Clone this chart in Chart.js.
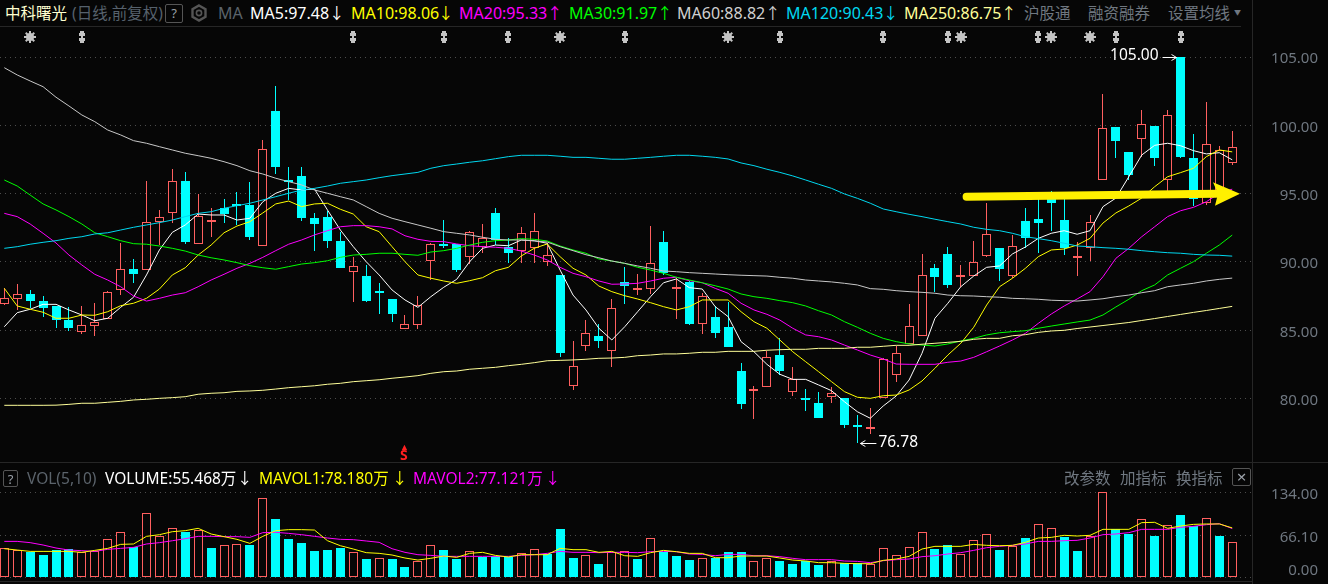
<!DOCTYPE html>
<html>
<head>
<meta charset="utf-8">
<title>中科曙光</title>
<script src="https://cdn.jsdelivr.net/npm/chart.js@4"></script>
<style>
html, body { margin: 0; padding: 0; background: #060606; width: 1328px; height: 584px; overflow: hidden; }
canvas { position: absolute; left: 0; }
#main_chart { top: 27px; }
#volume_chart { top: 463px; }
.t { position: absolute; white-space: nowrap; font: 15.5px/20px "Noto Sans", "Noto Sans CJK SC", sans-serif; color: #6f7780; z-index: 2; }
.m { font-size: 16px; }
.box { position: absolute; border: 1px solid #555; border-radius: 2px; text-align: center; color: #9aa0a8; font: 13px/16px "Noto Sans", sans-serif; z-index: 2; box-sizing: border-box; }
.rule { position: absolute; background: #262626; z-index: 1; }
</style>
</head>
<body>
<canvas id="main_chart" width="1318" height="435"></canvas>
<canvas id="volume_chart" width="1318" height="118"></canvas>

<div class="rule" style="left:0;top:26px;width:1241px;height:1px"></div>
<div class="rule" style="left:0;top:462px;width:1328px;height:1px"></div>
<div class="rule" style="left:0;top:581px;width:1252px;height:1px"></div>
<div class="rule" style="left:1252px;top:0;width:1px;height:584px"></div>

<span class="t" style="left:5px;top:3px;color:#ffffd0">中科曙光</span>
<span class="t" style="left:72px;top:3px;color:#56616c">(日线,前复权)</span>
<span class="box" style="left:165px;top:4px;width:18px;height:19px">?</span>
<svg style="position:absolute;left:190px;top:4px;z-index:2" width="18" height="18" viewBox="0 0 18 18"><path d="M9 1.5 15.5 5.2V12.8L9 16.5 2.5 12.8V5.2Z" fill="none" stroke="#555" stroke-width="2.4"/><circle cx="9" cy="9" r="2.6" fill="none" stroke="#555" stroke-width="1.6"/></svg>
<span class="t m" style="left:218px;top:3px;color:#5b636b">MA</span>
<span class="t m" style="left:250px;top:3px;color:#ffffff">MA5:97.48</span><span class="t" style="left:329px;top:3px;color:#ffffff">↓</span>
<span class="t m" style="left:351px;top:3px;color:#ffff00">MA10:98.06</span><span class="t" style="left:438px;top:3px;color:#ffff00">↓</span>
<span class="t m" style="left:459px;top:3px;color:#ff00ff">MA20:95.33</span><span class="t" style="left:547px;top:3px;color:#ff00ff">↑</span>
<span class="t m" style="left:569px;top:3px;color:#00ff00">MA30:91.97</span><span class="t" style="left:657px;top:3px;color:#00ff00">↑</span>
<span class="t m" style="left:677px;top:3px;color:#d0d0d0">MA60:88.82</span><span class="t" style="left:765px;top:3px;color:#d0d0d0">↑</span>
<span class="t m" style="left:786px;top:3px;color:#00d8f0">MA120:90.43</span><span class="t" style="left:883px;top:3px;color:#00d8f0">↓</span>
<span class="t m" style="left:904px;top:3px;color:#ffff99">MA250:86.75</span><span class="t" style="left:1001px;top:3px;color:#ffff99">↑</span>
<span class="t" style="left:1024px;top:3px">沪股通</span>
<span class="t" style="left:1088px;top:3px">融资融券</span>
<span class="t" style="left:1168px;top:3px">设置均线</span>
<span class="t" style="left:1234px;top:3px;font-size:7px">▼</span>

<span class="t" style="left:400px;top:442px;color:#ff2020;font:bold 9px/9px 'Noto Sans',sans-serif">▲</span>
<span class="t" style="left:400px;top:448px;color:#ff2020;font:bold 14px/14px 'Noto Sans',sans-serif">S</span>

<span class="box" style="left:3px;top:470px;width:15px;height:17px">?</span>
<span class="t" style="left:27px;top:468px;color:#5b636b">VOL(5,10)</span>
<span class="t" style="left:105px;top:468px;color:#ffffff">VOLUME:55.468万</span><span class="t" style="left:237px;top:468px;color:#ffffff">↓</span>
<span class="t" style="left:259px;top:468px;color:#ffff00">MAVOL1:78.180万</span><span class="t" style="left:392px;top:468px;color:#ffff00">↓</span>
<span class="t" style="left:413px;top:468px;color:#ff00ff">MAVOL2:77.121万</span><span class="t" style="left:545px;top:468px;color:#ff00ff">↓</span>
<span class="t" style="left:1064px;top:468px">改参数</span>
<span class="t" style="left:1120px;top:468px">加指标</span>
<span class="t" style="left:1176px;top:468px">换指标</span>
<span class="box" style="left:1232px;top:468px;width:19px;height:18px;font-size:17px">×</span>

<script>
const bg_color = '#060606';
const up_color = '#ff5f5f';
const down_color = '#00ffff';

const opens = [
    86.95, 87.31, 87.66, 87.14, 86.78, 85.75, 84.90, 85.34, 85.80, 87.93,
    89.47, 89.44, 92.95, 93.57, 95.94, 91.35, 92.95, 93.95, 94.28, 94.17,
    91.19, 101.05, 96.00, 96.29, 93.22, 93.29, 91.54, 89.29, 88.97, 87.88,
    87.29, 85.12, 85.41, 90.05, 91.34, 91.32, 90.39, 91.12, 93.59, 91.12,
    90.83, 91.02, 90.02, 89.05, 80.94, 83.87, 84.58, 83.51, 88.51, 88.00,
    88.05, 91.46, 88.02, 88.56, 85.44, 85.97, 85.24, 82.02, 80.56, 80.87,
    83.19, 80.51, 80.02, 79.68, 80.14, 80.04, 78.07, 77.83, 80.07, 81.75,
    84.02, 84.60, 89.56, 90.59, 89.01, 89.00, 90.46, 91.02, 89.00, 93.00,
    93.15, 94.83, 93.07, 90.42, 91.00, 96.03, 99.86, 98.03, 99.03, 99.99,
    96.03, 105.00, 97.60, 94.29, 94.83, 97.27
];
const closes = [
    87.39, 87.64, 87.14, 86.63, 85.75, 85.17, 85.37, 85.61, 87.78, 89.47,
    89.12, 92.96, 93.32, 95.91, 91.43, 93.33, 93.07, 93.51, 94.21, 91.85,
    98.25, 96.98, 95.93, 93.24, 92.78, 91.56, 89.56, 89.73, 87.14, 87.75,
    86.22, 85.44, 86.83, 91.30, 91.27, 89.41, 92.17, 91.73, 91.61, 90.68,
    92.10, 92.25, 90.49, 83.36, 82.36, 84.78, 84.22, 86.61, 88.26, 88.10,
    89.90, 89.17, 88.15, 85.46, 87.49, 84.80, 83.78, 79.60, 80.68, 83.02,
    82.02, 81.41, 79.92, 78.58, 80.39, 78.07, 77.94, 77.92, 82.90, 83.32,
    85.29, 89.03, 88.92, 88.34, 89.05, 89.98, 92.03, 89.49, 91.19, 91.78,
    92.88, 94.34, 91.00, 90.45, 92.95, 99.84, 98.85, 96.39, 100.13, 97.60,
    100.78, 97.67, 94.58, 98.66, 98.23, 98.45
];
const highs = [
    88.07, 88.39, 87.95, 87.51, 86.78, 86.68, 86.78, 86.98, 87.90, 91.37,
    90.20, 95.93, 93.81, 96.81, 96.60, 94.98, 93.95, 94.59, 95.12, 95.88,
    98.93, 102.88, 96.93, 96.93, 93.56, 93.75, 92.20, 90.34, 89.78, 88.44,
    87.29, 86.12, 87.51, 91.37, 93.07, 91.32, 92.29, 92.78, 93.95, 91.73,
    92.54, 93.59, 91.37, 89.05, 84.19, 85.75, 85.46, 87.29, 89.66, 89.12,
    92.63, 92.27, 88.81, 88.61, 87.71, 86.78, 87.09, 82.60, 80.92, 83.48,
    84.46, 82.29, 80.68, 80.46, 80.83, 80.04, 78.78, 79.29, 82.97, 83.85,
    86.90, 90.59, 89.85, 91.08, 89.78, 91.54, 94.30, 91.02, 91.95, 93.95,
    94.65, 95.20, 94.76, 91.44, 93.44, 102.33, 99.86, 98.03, 101.13, 99.99,
    101.13, 105.00, 99.39, 101.68, 98.52, 99.60
];
const lows = [
    86.83, 86.49, 86.63, 85.99, 85.17, 84.97, 84.75, 84.60, 85.80, 87.58,
    88.44, 89.44, 91.24, 92.88, 91.35, 91.35, 91.85, 92.88, 92.71, 91.61,
    91.19, 96.44, 94.54, 93.02, 90.80, 91.02, 89.56, 87.09, 87.09, 86.19,
    85.63, 85.12, 85.12, 88.68, 91.05, 89.29, 89.83, 90.68, 91.24, 89.95,
    89.95, 89.90, 89.71, 83.07, 80.63, 83.48, 83.73, 82.34, 86.93, 87.58,
    87.66, 89.05, 85.83, 85.39, 84.73, 84.46, 83.78, 79.22, 78.51, 80.87,
    81.73, 80.19, 79.12, 78.58, 79.70, 77.87, 76.78, 77.41, 80.07, 81.24,
    84.02, 84.60, 87.83, 88.12, 88.19, 89.00, 90.39, 88.61, 88.81, 91.00,
    90.64, 92.29, 90.51, 89.00, 90.07, 96.03, 97.61, 96.00, 97.71, 97.00,
    95.00, 97.60, 94.10, 94.14, 94.70, 97.10
];

const ma5 = [
    85.26, 86.29, 86.54, 86.90, 86.90, 86.49, 86.12, 85.70, 85.88, 86.68,
    87.42, 89.05, 90.88, 92.17, 92.71, 93.51, 93.44, 93.44, 93.07, 93.20,
    94.41, 95.03, 95.39, 95.27, 95.34, 93.81, 92.34, 91.12, 90.02, 89.05,
    87.95, 87.22, 86.68, 87.46, 88.15, 88.73, 90.02, 91.00, 91.24, 91.19,
    91.61, 91.56, 91.37, 89.41, 87.58, 86.49, 85.15, 84.29, 85.26, 86.36,
    87.46, 88.48, 88.76, 88.12, 88.02, 86.73, 86.00, 84.17, 83.43, 82.51,
    81.78, 81.41, 81.41, 81.00, 80.58, 79.77, 79.04, 78.56, 79.46, 80.19,
    81.36, 83.32, 85.88, 86.98, 88.19, 88.97, 89.61, 89.71, 90.59, 91.10,
    91.73, 92.10, 92.29, 92.03, 92.29, 94.05, 94.68, 96.24, 97.83, 98.54,
    98.69, 98.51, 98.15, 97.91, 98.00, 97.48
];
const ma10 = [
    88.07, 86.78, 86.54, 86.32, 85.88, 85.88, 86.12, 86.10, 86.36, 86.80,
    86.98, 87.34, 88.02, 89.05, 89.58, 90.51, 91.24, 92.14, 92.63, 92.95,
    93.59, 94.25, 94.46, 94.05, 94.25, 94.30, 93.86, 93.51, 92.58, 92.22,
    91.12, 90.02, 89.05, 88.81, 88.61, 88.44, 88.63, 88.85, 89.36, 89.61,
    90.44, 91.00, 91.32, 90.39, 89.54, 89.05, 88.24, 87.83, 87.53, 87.29,
    87.02, 86.73, 86.49, 86.73, 87.22, 87.22, 87.22, 86.36, 85.63, 85.15,
    84.29, 83.43, 82.70, 81.97, 81.24, 80.51, 80.10, 80.02, 80.21, 80.26,
    80.63, 81.29, 82.22, 83.19, 84.05, 85.22, 86.85, 88.19, 88.81, 89.54,
    90.39, 90.88, 90.95, 91.24, 91.73, 92.85, 93.59, 94.10, 94.68, 95.51,
    96.24, 96.54, 96.86, 97.71, 98.20, 98.06
];
const ma20 = [
    93.56, 93.32, 92.78, 92.10, 91.39, 90.51, 89.78, 89.10, 88.68, 88.19,
    87.51, 87.14, 87.34, 87.58, 87.75, 88.19, 88.68, 89.10, 89.54, 89.90,
    90.34, 90.83, 91.30, 91.61, 91.98, 92.29, 92.58, 92.66, 92.66, 92.58,
    92.42, 91.92, 91.66, 91.51, 91.49, 91.32, 91.19, 91.12, 91.08, 91.00,
    90.80, 90.51, 90.15, 89.61, 89.17, 88.92, 88.61, 88.37, 88.39, 88.44,
    88.61, 88.81, 88.88, 88.63, 88.48, 88.07, 87.71, 86.98, 86.49, 86.17,
    85.75, 85.15, 84.66, 84.53, 84.29, 83.92, 83.56, 83.19, 82.90, 82.53,
    82.51, 82.51, 82.51, 82.66, 82.75, 83.02, 83.43, 83.85, 84.29, 84.78,
    85.51, 86.19, 86.78, 87.29, 87.83, 88.92, 90.27, 91.00, 91.85, 92.58,
    93.32, 93.75, 94.00, 94.41, 95.03, 95.33
];
const ma30 = [
    96.00, 95.56, 94.90, 94.25, 93.81, 93.32, 92.78, 92.14, 91.85, 91.56,
    91.34, 91.30, 91.17, 91.00, 90.80, 90.51, 90.31, 90.15, 89.95, 89.73,
    89.58, 89.47, 89.66, 89.85, 89.95, 90.09, 90.34, 90.51, 90.56, 90.64,
    90.64, 90.56, 90.49, 90.73, 90.83, 91.00, 91.24, 91.44, 91.56, 91.61,
    91.71, 91.66, 91.54, 91.17, 90.88, 90.64, 90.22, 90.07, 89.90, 89.61,
    89.41, 89.17, 88.88, 88.68, 88.48, 88.26, 88.02, 87.66, 87.46, 87.34,
    87.17, 87.02, 86.78, 86.43, 86.12, 85.63, 85.22, 84.78, 84.41, 84.17,
    84.00, 83.92, 83.85, 84.00, 84.22, 84.41, 84.66, 84.82, 84.90, 84.97,
    85.15, 85.31, 85.46, 85.61, 85.75, 86.12, 86.71, 87.27, 87.90, 88.32,
    89.05, 89.54, 90.02, 90.64, 91.24, 91.97
];
const ma60 = [
    104.22, 103.69, 103.25, 102.83, 102.06, 101.42, 100.76, 100.27, 99.66, 99.30,
    98.88, 98.69, 98.44, 98.20, 97.96, 97.78, 97.59, 97.34, 97.05, 96.68,
    96.44, 96.13, 95.88, 95.64, 95.27, 95.03, 94.78, 94.54, 94.05, 93.56,
    93.20, 92.95, 92.71, 92.47, 92.22, 92.10, 91.98, 91.81, 91.66, 91.61,
    91.61, 91.54, 91.46, 91.12, 90.83, 90.53, 90.31, 90.07, 89.90, 89.71,
    89.54, 89.34, 89.29, 89.22, 89.17, 89.12, 89.07, 89.03, 89.00, 88.97,
    88.88, 88.81, 88.68, 88.61, 88.54, 88.44, 88.32, 88.05, 88.00, 87.90,
    87.83, 87.78, 87.71, 87.58, 87.53, 87.51, 87.46, 87.42, 87.34, 87.31,
    87.27, 87.20, 87.17, 87.14, 87.22, 87.31, 87.46, 87.58, 87.75, 87.90,
    88.19, 88.32, 88.44, 88.61, 88.73, 88.82
];
const ma120 = [
    91.00, 91.12, 91.30, 91.44, 91.56, 91.73, 91.85, 92.05, 92.14, 92.34,
    92.54, 92.71, 92.88, 93.07, 93.32, 93.56, 93.68, 93.93, 94.12, 94.30,
    94.54, 94.78, 95.03, 95.27, 95.39, 95.56, 95.76, 95.88, 96.00, 96.17,
    96.32, 96.44, 96.56, 96.86, 97.05, 97.17, 97.30, 97.41, 97.56, 97.71,
    97.81, 97.81, 97.81, 97.74, 97.66, 97.66, 97.59, 97.52, 97.52, 97.59,
    97.66, 97.74, 97.81, 97.81, 97.74, 97.66, 97.54, 97.25, 97.05, 96.79,
    96.56, 96.30, 96.00, 95.69, 95.39, 94.98, 94.66, 94.30, 93.88, 93.68,
    93.49, 93.32, 93.13, 92.95, 92.78, 92.54, 92.39, 92.29, 92.10, 91.85,
    91.71, 91.56, 91.37, 91.17, 91.12, 91.05, 91.00, 90.93, 90.83, 90.75,
    90.68, 90.64, 90.56, 90.51, 90.49, 90.43
];
const ma250 = [
    79.51, 79.51, 79.51, 79.51, 79.52, 79.58, 79.66, 79.66, 79.73, 79.80,
    79.90, 79.95, 80.02, 80.07, 80.14, 80.32, 80.39, 80.43, 80.53, 80.56,
    80.61, 80.70, 80.80, 80.87, 80.94, 81.05, 81.12, 81.24, 81.31, 81.38,
    81.49, 81.58, 81.68, 81.85, 81.97, 82.02, 82.15, 82.22, 82.29, 82.41,
    82.51, 82.63, 82.77, 82.80, 82.83, 82.88, 82.95, 82.97, 83.02, 83.14,
    83.19, 83.27, 83.27, 83.32, 83.39, 83.39, 83.46, 83.46, 83.46, 83.54,
    83.58, 83.61, 83.61, 83.68, 83.68, 83.68, 83.76, 83.76, 83.83, 83.90,
    83.90, 83.98, 84.05, 84.12, 84.19, 84.34, 84.41, 84.41, 84.60, 84.68,
    84.85, 84.95, 85.00, 85.13, 85.24, 85.35, 85.46, 85.57, 85.72, 85.86,
    86.01, 86.16, 86.31, 86.45, 86.60, 86.75
];

const volumes = [
    46.1, 43.4, 40.8, 35.6, 43.4, 45.0, 39.8, 41.3, 60.2, 71.2,
    47.6, 101.0, 66.0, 77.5, 72.2, 74.8, 46.6, 50.8, 52.3, 51.3,
    124.6, 92.1, 60.7, 54.4, 41.9, 43.4, 46.6, 39.8, 29.3, 30.4,
    29.3, 16.7, 26.7, 50.8, 43.4, 29.3, 41.3, 32.5, 33.5, 32.5,
    38.2, 44.5, 37.2, 76.4, 30.9, 35.0, 21.5, 40.8, 41.3, 29.3,
    61.8, 40.8, 34.0, 27.7, 30.4, 31.4, 40.3, 40.3, 25.6, 30.4,
    26.2, 21.5, 26.2, 19.9, 25.6, 23.6, 22.5, 20.9, 46.1, 35.0,
    47.6, 71.2, 45.0, 51.3, 36.6, 58.6, 68.0, 43.4, 49.7, 62.3,
    83.7, 77.5, 63.3, 41.9, 65.4, 134.0, 76.4, 68.6, 91.6, 66.0,
    82.2, 98.4, 80.6, 93.7, 66.0, 55.47
];
const volume_up = [
    1, 1, 0, 0, 0, 0, 1, 1, 1, 1,
    0, 1, 1, 1, 0, 1, 0, 1, 1, 0,
    1, 0, 0, 0, 0, 0, 0, 1, 0, 1,
    0, 0, 1, 1, 0, 0, 1, 0, 0, 0,
    1, 1, 0, 0, 0, 1, 0, 1, 1, 0,
    1, 0, 0, 0, 1, 0, 0, 0, 1, 1,
    0, 0, 0, 0, 1, 0, 0, 1, 1, 1,
    1, 1, 0, 0, 1, 1, 1, 0, 1, 0,
    1, 1, 0, 0, 1, 1, 0, 0, 1, 0,
    1, 0, 0, 1, 0, 1
];
const mavol1 = [
    45.5, 43.4, 41.3, 41.3, 41.3, 41.3, 39.8, 42.9, 46.0, 52.3,
    52.9, 64.9, 67.5, 72.2, 73.8, 77.5, 68.6, 64.4, 60.2, 53.9,
    64.9, 73.8, 75.4, 75.4, 74.8, 58.1, 50.2, 45.0, 39.3, 38.2,
    35.6, 30.9, 27.7, 30.4, 34.0, 31.9, 38.2, 39.8, 35.0, 32.5,
    36.1, 36.1, 36.1, 46.0, 44.0, 44.0, 39.8, 41.3, 34.5, 33.5,
    39.3, 42.9, 40.8, 38.2, 38.2, 31.4, 31.4, 34.0, 34.0, 34.0,
    30.9, 27.7, 26.2, 23.6, 23.6, 22.5, 22.0, 22.0, 27.2, 29.3,
    33.5, 45.0, 49.2, 49.2, 49.2, 52.3, 50.8, 50.2, 50.8, 55.5,
    62.3, 63.3, 66.5, 65.4, 66.5, 75.9, 75.9, 75.9, 86.4, 86.9,
    77.5, 81.1, 83.7, 84.3, 84.3, 78.18
];
const mavol2 = [
    57.0, 57.0, 55.0, 51.3, 46.6, 43.4, 42.4, 41.3, 44.5, 46.0,
    47.6, 52.9, 55.0, 58.0, 61.2, 64.9, 64.9, 64.4, 64.4, 63.3,
    70.7, 71.2, 69.6, 67.5, 64.9, 62.3, 60.2, 59.7, 57.6, 55.5,
    45.5, 39.8, 36.1, 35.0, 33.5, 33.5, 33.5, 33.5, 33.5, 33.5,
    35.0, 36.1, 38.2, 41.3, 39.8, 39.8, 39.3, 39.8, 39.8, 39.3,
    40.8, 41.3, 40.8, 37.2, 36.6, 34.5, 36.6, 36.6, 34.5, 34.5,
    33.0, 30.4, 28.3, 28.3, 28.3, 26.2, 25.6, 23.6, 26.7, 28.3,
    29.3, 33.0, 34.5, 37.2, 39.3, 42.9, 47.1, 49.2, 50.8, 52.9,
    57.0, 57.0, 58.1, 58.6, 62.3, 67.5, 68.6, 70.7, 75.9, 75.9,
    75.9, 79.0, 80.6, 83.2, 84.8, 77.12
];

const price_ticks = [80, 85, 90, 95, 100, 105];
const volume_ticks = [0, 66.1, 134];
const star_days = [2, 43, 56, 74, 81, 84];
const diamond_days = [6, 27, 34, 39, 48, 60, 68, 73, 80, 86, 91];
const marker_level = 106.49;
const arrow_from = { day: 74.45, price: 94.78 };
const arrow_to = { day: 95.6, price: 95.0 };

const x_min = -0.333;
const x_max = 96.53;

function make_star() {
    const c = document.createElement('canvas');
    c.width = 14; c.height = 14;
    const g = c.getContext('2d');
    g.translate(7, 7);
    g.fillStyle = '#c4c4c4';
    g.beginPath();
    g.arc(0, 0, 4, 0, Math.PI * 2);
    g.fill();
    for (let a = 0; a < 8; a++) {
        g.rotate(Math.PI / 4);
        g.fillRect(-1, -6, 2, 3);
    }
    return c;
}

function make_diamond() {
    const c = document.createElement('canvas');
    c.width = 8; c.height = 12;
    const g = c.getContext('2d');
    g.fillStyle = '#c4c4c4';
    g.fillRect(2, 0, 4, 2);
    g.fillRect(1, 2, 6, 3);
    g.fillRect(3, 5, 2, 2);
    g.fillRect(1, 7, 6, 3);
    g.fillRect(2, 10, 4, 2);
    return c;
}

function points(values) {
    return values.map((v, i) => ({ x: i, y: v }));
}

function ma_line(label, values, color) {
    return { type: 'line', label: label, data: points(values), borderColor: color, borderWidth: 1, pointRadius: 0, order: 1 };
}

// keep bars on whole pixels so the thin wicks and hollow boxes stay sharp
const snap_plugin = {
    id: 'snap',
    beforeDatasetsDraw(chart) {
        chart.data.datasets.forEach((ds, n) => {
            const meta = chart.getDatasetMeta(n);
            if (meta.type === 'bar') {
                meta.data.forEach(el => {
                    el.x = Math.floor(el.x) + 0.5;
                    el.y = Math.round(el.y);
                    el.base = Math.round(el.base);
                    if (ds.is_body && Math.abs(el.base - el.y) < 2) el.base = el.y + 2;
                });
            } else if (ds.showLine === false) {
                meta.data.forEach(el => { el.x = Math.round(el.x); el.y = Math.round(el.y); });
            }
        });
    }
};

const notes_plugin = {
    id: 'notes',
    afterDatasetsDraw(chart) {
        const ctx = chart.ctx;
        const xs = chart.scales.x;
        const ys = chart.scales.y;
        ctx.save();
        ctx.strokeStyle = '#ffffff';
        ctx.fillStyle = '#ffffff';
        ctx.lineWidth = 1;
        ctx.font = '15.5px "Noto Sans", sans-serif';
        ctx.textBaseline = 'middle';

        const top_value = Math.max(...highs);
        const top_x = xs.getPixelForValue(highs.indexOf(top_value));
        const top_y = ys.getPixelForValue(top_value);
        ctx.textAlign = 'right';
        ctx.fillText(top_value.toFixed(2), top_x - 22, top_y - 1);
        small_arrow(ctx, top_x - 18, top_y, top_x - 4, 1);

        const low_value = Math.min(...lows);
        const low_x = xs.getPixelForValue(lows.indexOf(low_value));
        const low_y = ys.getPixelForValue(low_value);
        ctx.textAlign = 'left';
        ctx.fillText(low_value.toFixed(2), low_x + 21, low_y);
        small_arrow(ctx, low_x + 19, low_y, low_x + 3, -1);

        // yellow arrow drawn over the candles
        const x0 = xs.getPixelForValue(arrow_from.day);
        const y0 = ys.getPixelForValue(arrow_from.price);
        const x1 = xs.getPixelForValue(arrow_to.day);
        const y1 = ys.getPixelForValue(arrow_to.price);
        ctx.strokeStyle = '#fff000';
        ctx.fillStyle = '#fff000';
        ctx.lineWidth = 8;
        ctx.lineCap = 'round';
        ctx.beginPath();
        ctx.moveTo(x0, y0);
        ctx.lineTo(x1 - 24, y1);
        ctx.stroke();
        ctx.beginPath();
        ctx.moveTo(x1, y1);
        ctx.lineTo(x1 - 27, y1 - 11.5);
        ctx.lineTo(x1 - 22, y1);
        ctx.lineTo(x1 - 25, y1 + 12);
        ctx.closePath();
        ctx.fill();
        ctx.restore();
    }
};

function small_arrow(ctx, from_x, y, to_x, dir) {
    const py = Math.round(y) + 0.5;
    ctx.beginPath();
    ctx.moveTo(from_x, py);
    ctx.lineTo(to_x, py);
    ctx.moveTo(to_x - 5 * dir, py - 3);
    ctx.lineTo(to_x, py);
    ctx.lineTo(to_x - 5 * dir, py + 3);
    ctx.stroke();
}

function right_axis(min, max, ticks_list, callback) {
    return {
        position: 'right',
        min: min,
        max: max,
        afterBuildTicks(scale) { scale.ticks = ticks_list.map(v => ({ value: v })); },
        afterFit(scale) { scale.width = 66; scale.paddingTop = 0; scale.paddingBottom = 0; },
        border: { display: false, dash: [1, 4] },
        grid: { color: '#4c4c4c', drawTicks: false, lineWidth: 1 },
        ticks: {
            autoSkip: false,
            crossAlign: 'far',
            labelOffset: 2,
            color: '#6f7780',
            font: { family: '"Noto Sans", sans-serif', size: 15 },
            callback: callback
        }
    };
}

function base_options(y_axis) {
    return {
        responsive: false,
        animation: false,
        devicePixelRatio: 1,
        layout: { padding: 0, autoPadding: false },
        plugins: { legend: { display: false }, tooltip: { enabled: false } },
        scales: {
            x: { type: 'linear', display: false, offset: false, min: x_min, max: x_max },
            y: y_axis
        }
    };
}

const candle_colors = opens.map((o, i) => closes[i] >= o ? up_color : down_color);

new Chart(document.getElementById('main_chart'), {
    type: 'bar',
    data: {
        datasets: [
            {
                label: 'wick',
                data: highs.map((h, i) => ({ x: i, y: [lows[i], h] })),
                backgroundColor: candle_colors,
                borderWidth: 0,
                barThickness: 1,
                grouped: false,
                inflateAmount: 0,
                order: 3
            },
            {
                label: 'body',
                is_body: true,
                data: opens.map((o, i) => ({ x: i, y: [o, closes[i]] })),
                backgroundColor: opens.map((o, i) => closes[i] >= o ? bg_color : down_color),
                borderColor: candle_colors,
                borderWidth: 1,
                borderSkipped: false,
                barThickness: 9,
                grouped: false,
                inflateAmount: 0,
                order: 2
            },
            ma_line('MA250', ma250, '#ffff99'),
            ma_line('MA120', ma120, '#00d8f0'),
            ma_line('MA60', ma60, '#c8c8c8'),
            ma_line('MA30', ma30, '#00ff00'),
            ma_line('MA20', ma20, '#ff00ff'),
            ma_line('MA10', ma10, '#ffff00'),
            ma_line('MA5', ma5, '#ffffff'),
            {
                type: 'line',
                label: 'star',
                showLine: false,
                data: star_days.map(d => ({ x: d, y: marker_level })),
                pointStyle: make_star(),
                pointRadius: 6,
                order: 0
            },
            {
                type: 'line',
                label: 'diamond',
                showLine: false,
                data: diamond_days.map(d => ({ x: d, y: marker_level })),
                pointStyle: make_diamond(),
                pointRadius: 6,
                order: 0
            }
        ]
    },
    options: base_options(right_axis(75.36, 107.2, price_ticks, v => v.toFixed(2))),
    plugins: [snap_plugin, notes_plugin]
});

const volume_colors = volume_up.map(u => u ? up_color : down_color);

new Chart(document.getElementById('volume_chart'), {
    type: 'bar',
    data: {
        datasets: [
            {
                label: 'VOLUME',
                data: points(volumes),
                backgroundColor: volume_up.map(u => u ? bg_color : down_color),
                borderColor: volume_colors,
                borderWidth: 1,
                borderSkipped: false,
                barThickness: 9,
                grouped: false,
                inflateAmount: 0,
                order: 2
            },
            ma_line('MAVOL1', mavol1, '#ffff00'),
            ma_line('MAVOL2', mavol2, '#ff00ff')
        ]
    },
    options: base_options(right_axis(-5.18, 180, volume_ticks, v => v === 0 ? ['0.00', ''] : v.toFixed(2))),
    plugins: [snap_plugin]
});
</script>
</body>
</html>
